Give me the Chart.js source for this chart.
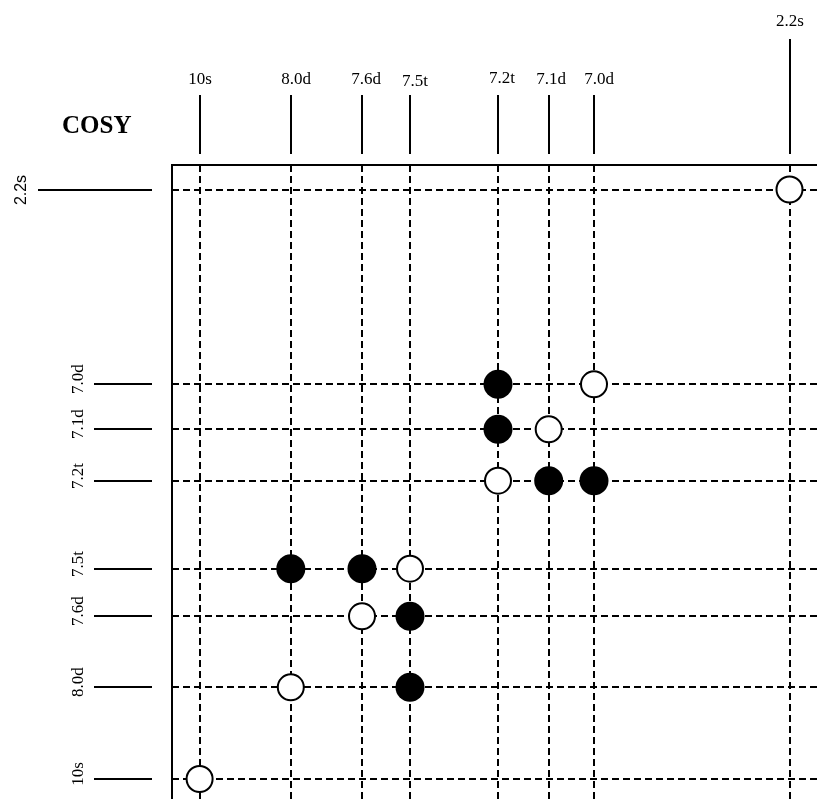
<!DOCTYPE html>
<html>
<head>
<meta charset="utf-8">
<title>COSY</title>
<script src="https://cdn.jsdelivr.net/npm/chart.js@4.4.1/dist/chart.umd.min.js"></script>
<style>
  html, body { margin: 0; padding: 0; background: #fff; overflow: hidden; }
  #cosy { display: block; }
</style>
</head>
<body>
<canvas id="cosy" width="817" height="799"></canvas>
<script>
// peaks, in the order they run along the top axis
const peaks = ['10s', '8.0d', '7.6d', '7.5t', '7.2t', '7.1d', '7.0d', '2.2s'];
// where each peak sits along the top (F2) axis and the left (F1) axis
const colPos = [2.76, 11.88, 19.0, 23.8, 32.6, 37.67, 42.2, 61.75];
const rowPos = [61.4, 52.23, 45.13, 40.37, 31.57, 26.43, 21.93, 2.45];
// off-diagonal (cross) peaks as [column peak, row peak]
const crossPeaks = [
    ['7.2t', '7.0d'], ['7.2t', '7.1d'],
    ['7.1d', '7.2t'], ['7.0d', '7.2t'],
    ['8.0d', '7.5t'], ['7.6d', '7.5t'],
    ['7.5t', '7.6d'], ['7.5t', '8.0d']
];

const serif = '"Liberation Serif", "Times New Roman", serif';
const sans = '"Liberation Sans", Arial, sans-serif';

const col = (name) => colPos[peaks.indexOf(name)];
const row = (name) => rowPos[peaks.indexOf(name)];

const diagData = peaks.map(p => ({ x: col(p), y: row(p) }));
const crossData = crossPeaks.map(([c, r]) => ({ x: col(c), y: row(r) }));

// Grid, frame, projections and labels around the plot area
const cosyFrame = {
    id: 'cosyFrame',
    beforeDatasetsDraw(chart) {
        const { ctx, chartArea: a, scales: { x, y } } = chart;
        ctx.save();
        ctx.strokeStyle = '#000';
        ctx.fillStyle = '#000';

        // dashed grid through each peak
        ctx.lineWidth = 2;
        ctx.setLineDash([7, 4]);
        peaks.forEach((p, i) => {
            const px = Math.round(x.getPixelForValue(colPos[i]));
            const py = Math.round(y.getPixelForValue(rowPos[i]));
            ctx.beginPath();
            ctx.moveTo(px, a.top);
            ctx.lineTo(px, a.bottom);
            ctx.stroke();
            ctx.beginPath();
            ctx.moveTo(a.left, py);
            ctx.lineTo(a.right, py);
            ctx.stroke();
        });
        ctx.setLineDash([]);

        // frame (top and left only, the rest runs off the page)
        ctx.beginPath();
        ctx.moveTo(a.right, a.top);
        ctx.lineTo(a.left, a.top);
        ctx.lineTo(a.left, a.bottom);
        ctx.stroke();

        // top projection lines + labels
        ctx.textAlign = 'center';
        ctx.textBaseline = 'alphabetic';
        ctx.font = '17px ' + serif;
        const nudge = { '8.0d': 5, '7.6d': 4, '7.5t': 5, '7.2t': 4, '7.1d': 2, '7.0d': 5 };
        const drop = { '7.5t': 2, '7.2t': -1 };
        peaks.forEach((p, i) => {
            const px = Math.round(x.getPixelForValue(colPos[i]));
            const tall = p === '2.2s';
            ctx.beginPath();
            ctx.moveTo(px, tall ? 39 : 95);
            ctx.lineTo(px, a.top - 11);
            ctx.stroke();
            ctx.fillText(p, px + (nudge[p] || 0), (tall ? 26 : 84) + (drop[p] || 0));
        });

        // left projection lines + rotated labels
        peaks.forEach((p, i) => {
            const py = Math.round(y.getPixelForValue(rowPos[i]));
            const tall = p === '2.2s';
            ctx.beginPath();
            ctx.moveTo(tall ? 38 : 94, py);
            ctx.lineTo(a.left - 20, py);
            ctx.stroke();
            ctx.save();
            ctx.translate(tall ? 26 : 83, py - (tall ? 0 : 5));
            ctx.rotate(-Math.PI / 2);
            ctx.font = tall ? ('16px ' + sans) : ('17px ' + serif);
            ctx.fillText(p, 0, 0);
            ctx.restore();
        });

        // title
        ctx.textAlign = 'left';
        ctx.font = 'bold 25px ' + serif;
        ctx.fillText('COSY', 62, 133);
        ctx.restore();
    }
};

new Chart(document.getElementById('cosy'), {
    type: 'scatter',
    data: {
        datasets: [{
            label: 'cross peaks',
            data: crossData,
            pointRadius: 14.5,
            pointHoverRadius: 14.5,
            backgroundColor: '#000',
            borderColor: '#000',
            borderWidth: 0
        }, {
            label: 'diagonal',
            data: diagData,
            pointRadius: 13,
            pointHoverRadius: 13,
            backgroundColor: '#fff',
            borderColor: '#000',
            borderWidth: 2
        }]
    },
    options: {
        responsive: false,
        devicePixelRatio: 1,
        animation: false,
        layout: {
            autoPadding: false,
            padding: { left: 172, top: 165, right: 0, bottom: 0 }
        },
        scales: {
            x: { type: 'linear', min: 0, max: 64.5, display: false },
            y: { type: 'linear', min: 0, max: 63.4, reverse: true, display: false }
        },
        plugins: {
            legend: { display: false },
            tooltip: { enabled: false }
        }
    },
    plugins: [cosyFrame]
});
</script>
</body>
</html>
